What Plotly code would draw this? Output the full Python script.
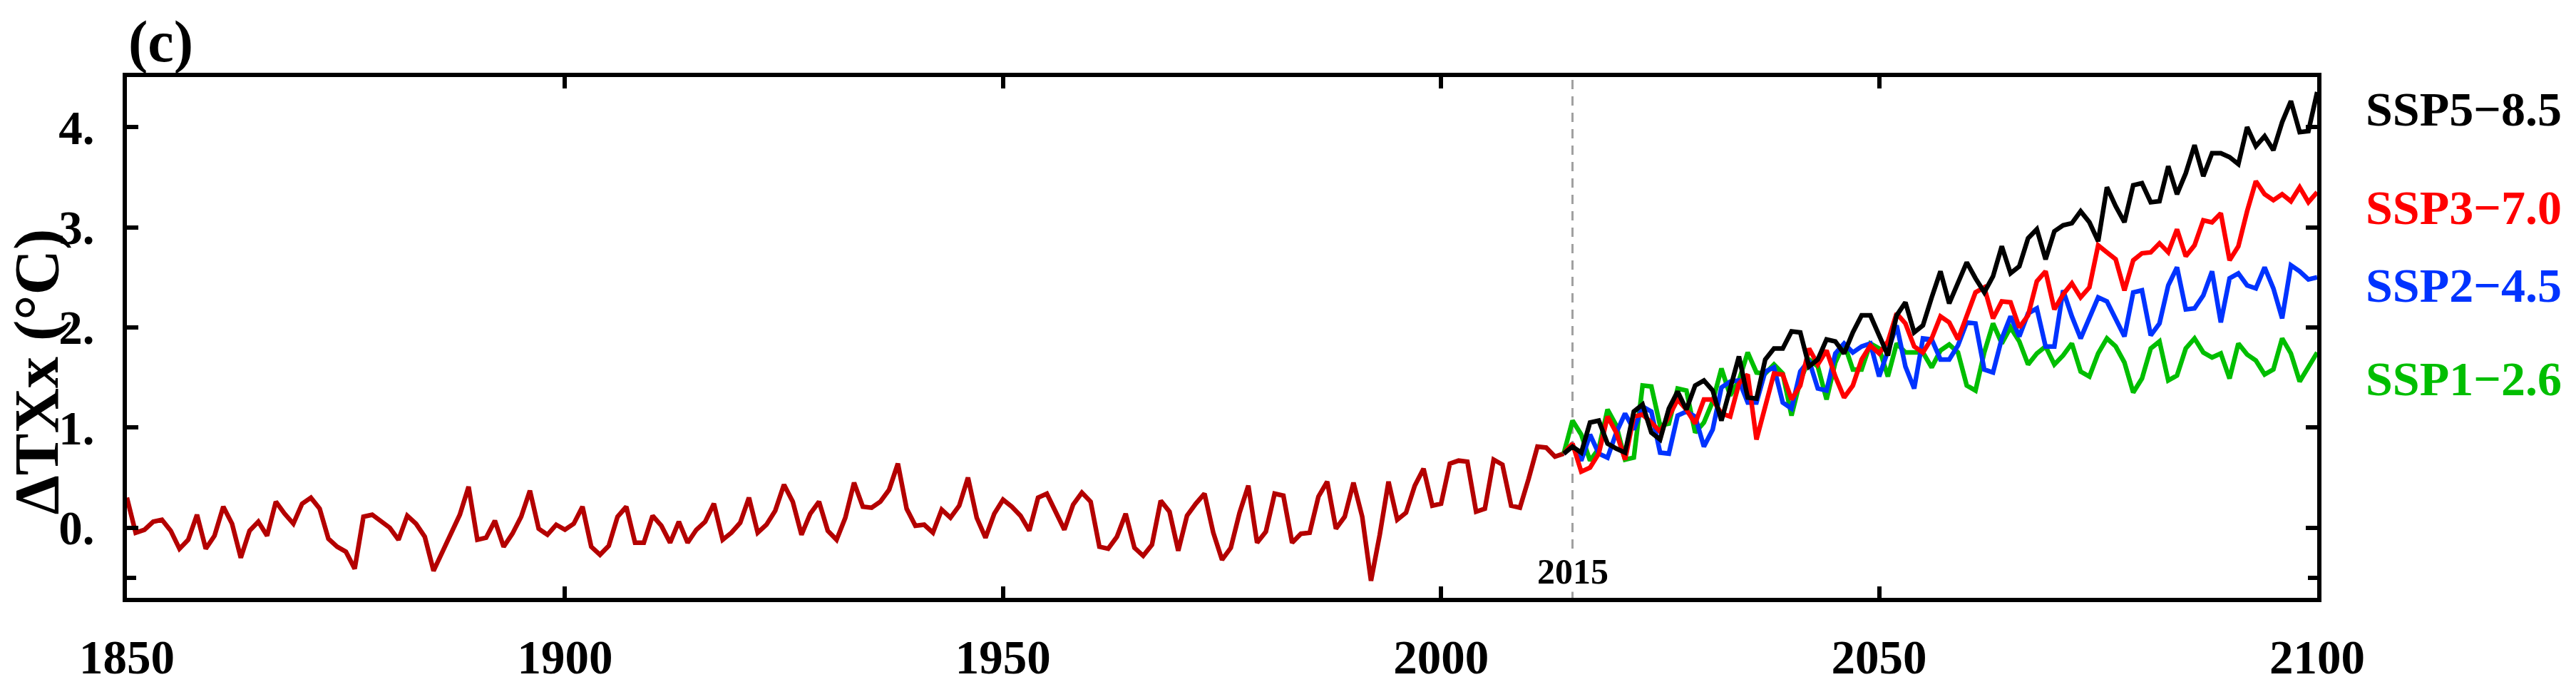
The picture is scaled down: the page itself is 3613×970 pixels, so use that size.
import plotly.graph_objects as go

# ---------------- data ----------------
hist_years = list(range(1850, 2015))
hist_vals = [
    0.30, -0.05, -0.02, 0.06, 0.08, -0.03, -0.21, -0.12, 0.13, -0.21,
    -0.08, 0.21, 0.04, -0.30, -0.03, 0.06, -0.08, 0.26, 0.14, 0.04,
    0.24, 0.30, 0.19, -0.11, -0.19, -0.24, -0.41, 0.11, 0.13, 0.06,
    0.00, -0.12, 0.12, 0.04, -0.09, -0.43, -0.25, -0.05, 0.13, 0.41,
    -0.12, -0.10, 0.07, -0.19, -0.06, 0.11, 0.37, -0.01, -0.07, 0.03,
    -0.02, 0.04, 0.21, -0.19, -0.27, -0.18, 0.11, 0.21, -0.15, -0.15,
    0.12, 0.02, -0.15, 0.06, -0.15, -0.02, 0.06, 0.24, -0.12, -0.05,
    0.05, 0.30, -0.05, 0.03, 0.17, 0.43, 0.26, -0.07, 0.14, 0.26,
    -0.03, -0.12, 0.10, 0.45, 0.21, 0.20, 0.26, 0.38, 0.64, 0.19,
    0.02, 0.03, -0.05, 0.18, 0.10, 0.22, 0.50, 0.10, -0.10, 0.14,
    0.28, 0.21, 0.12, -0.03, 0.30, 0.34, 0.15, -0.02, 0.23, 0.35,
    0.26, -0.19, -0.21, -0.09, 0.14, -0.20, -0.28, -0.17, 0.27, 0.16,
    -0.23, 0.12, 0.24, 0.34, -0.05, -0.32, -0.20, 0.15, 0.42, -0.15,
    -0.04, 0.34, 0.32, -0.15, -0.06, -0.05, 0.31, 0.46, -0.01, 0.11,
    0.45, 0.11, -0.53, -0.07, 0.46, 0.08, 0.15, 0.42, 0.59, 0.22,
    0.24, 0.64, 0.67, 0.66, 0.16, 0.19, 0.68, 0.63, 0.22, 0.20,
    0.49, 0.81, 0.80, 0.71, 0.74,
]

proj_years = list(range(2014, 2101))
ssp585 = [
    0.74, 0.81, 0.75, 1.05, 1.07, 0.84, 0.79, 0.75, 1.16, 1.23,
    0.95, 0.88, 1.19, 1.36, 1.18, 1.42, 1.47, 1.37, 1.07, 1.40,
    1.71, 1.30, 1.29, 1.68, 1.79, 1.79, 1.96, 1.95, 1.61, 1.68,
    1.88, 1.86, 1.74, 1.95, 2.12, 2.12, 1.93, 1.72, 2.12, 2.25,
    1.95, 2.02, 2.30, 2.56, 2.24, 2.46, 2.65, 2.49, 2.35, 2.51,
    2.81, 2.54, 2.61, 2.89, 2.98, 2.68, 2.96, 3.02, 3.04, 3.16,
    3.05, 2.86, 3.40, 3.21, 3.05, 3.42, 3.44, 3.25, 3.26, 3.61,
    3.33, 3.54, 3.82, 3.51, 3.74, 3.74, 3.70, 3.63, 4.00, 3.81,
    3.91, 3.77, 4.05, 4.26, 3.95, 3.96, 4.35,
]
ssp370 = [
    0.74, 0.84, 0.56, 0.60, 0.74, 1.11, 0.95, 0.68, 1.11, 1.13,
    1.05, 0.96, 1.11, 1.28, 1.18, 1.04, 1.28, 1.28, 1.14, 1.11,
    1.44, 1.53, 0.88, 1.23, 1.54, 1.53, 1.28, 1.42, 1.79, 1.63,
    1.77, 1.51, 1.30, 1.42, 1.68, 1.82, 1.74, 1.86, 2.14, 2.04,
    1.81, 1.75, 1.89, 2.11, 2.05, 1.88, 2.11, 2.35, 2.40, 2.09,
    2.26, 2.25, 2.00, 2.12, 2.46, 2.56, 2.18, 2.33, 2.44, 2.30,
    2.40, 2.82, 2.75, 2.68, 2.37, 2.67, 2.74, 2.75, 2.84, 2.75,
    2.98, 2.71, 2.82, 3.07, 3.05, 3.14, 2.67, 2.81, 3.16, 3.46,
    3.33, 3.27, 3.33, 3.26, 3.40, 3.25, 3.35,
]
ssp245 = [
    0.74, 0.82, 0.67, 0.93, 0.74, 0.70, 0.95, 1.14, 0.98, 1.21,
    1.16, 0.75, 0.74, 1.12, 1.16, 1.11, 0.81, 0.98, 1.40, 1.46,
    1.47, 1.25, 1.25, 1.56, 1.60, 1.25, 1.19, 1.56, 1.67, 1.39,
    1.37, 1.74, 1.84, 1.75, 1.81, 1.84, 1.51, 1.75, 2.02, 1.61,
    1.39, 1.89, 1.88, 1.68, 1.68, 1.82, 2.05, 2.04, 1.58, 1.55,
    1.89, 2.11, 1.91, 2.14, 2.19, 1.81, 1.81, 2.37, 2.11, 1.89,
    2.11, 2.30, 2.26, 2.09, 1.91, 2.35, 2.37, 1.92, 2.04, 2.42,
    2.60, 2.18, 2.19, 2.32, 2.56, 2.05, 2.49, 2.54, 2.42, 2.39,
    2.60, 2.39, 2.09, 2.62, 2.56, 2.48, 2.50,
]
ssp126 = [
    0.74, 1.07, 0.93, 0.67, 0.79, 1.18, 1.02, 0.68, 0.70, 1.42,
    1.41, 1.02, 1.04, 1.39, 1.37, 0.95, 1.05, 1.26, 1.59, 1.32,
    1.47, 1.75, 1.55, 1.54, 1.63, 1.54, 1.12, 1.47, 1.68, 1.61,
    1.28, 1.65, 1.84, 1.58, 1.58, 1.84, 1.79, 1.51, 1.84, 1.75,
    1.75, 1.75, 1.60, 1.77, 1.83, 1.75, 1.42, 1.37, 1.75, 2.04,
    1.84, 2.00, 1.86, 1.63, 1.74, 1.81, 1.63, 1.72, 1.84, 1.56,
    1.51, 1.74, 1.89, 1.81, 1.65, 1.35, 1.49, 1.79, 1.86, 1.47,
    1.52, 1.79, 1.89, 1.75, 1.70, 1.74, 1.49, 1.84, 1.73, 1.67,
    1.53, 1.58, 1.89, 1.74, 1.46, 1.60, 1.75,
]

scenario_names = ["SSP1\u22122.6", "SSP2\u22124.5", "SSP3\u22127.0", "SSP5\u22128.5"]
scenario_values = [ssp126, ssp245, ssp370, ssp585]
scenario_colors = ["#00BE00", "#0033FF", "#FF0000", "#000000"]
hist_color = "#B40000"

x_tickvals = [1850, 1900, 1950, 2000, 2050, 2100]
y_tickvals = [0, 1, 2, 3, 4]
y_ticktext = ["0.", "1.", "2.", "3.", "4."]
split_year = 2015

# ---------------- figure ----------------
FONT = "Liberation Serif, Times New Roman, serif"
W, H = 3613, 970
ML, MR, MT, MB = 178, 363, 108, 94
PW, PH = W - ML - MR, H - MT - MB


def px_to_paper_x(px):
    return (px - ML) / PW


def px_to_paper_y(py):
    return (H - MB - py) / PH


fig = go.Figure()
fig.add_trace(go.Scatter(x=hist_years, y=hist_vals, mode="lines",
                         line=dict(color=hist_color, width=6.5),
                         showlegend=False))
for name, vals, col in zip(scenario_names, scenario_values, scenario_colors):
    fig.add_trace(go.Scatter(x=proj_years, y=vals, mode="lines", name=name,
                             line=dict(color=col, width=6.5), showlegend=False))

fig.add_shape(type="line", xref="x", yref="paper", x0=split_year, x1=split_year,
              y0=0, y1=1, line=dict(color="#A0A0A0", width=3, dash="13px,10px"),
              layer="below")

axis_common = dict(showline=True, linewidth=6, linecolor="black", mirror="ticks",
                   ticks="inside", ticklen=16, tickwidth=6, tickcolor="black",
                   showgrid=False, zeroline=False,
                   tickfont=dict(family=FONT, size=67, color="black", weight="bold"))

fig.update_xaxes(range=[1850, 2100], tickmode="array", tickvals=x_tickvals,
                 ticktext=[str(v) for v in x_tickvals], ticklabelstandoff=20,
                 **axis_common)
fig.update_yaxes(range=[-0.7, 4.5], tickmode="array", tickvals=y_tickvals,
                 ticktext=y_ticktext, ticklabelstandoff=26,
                 minor=dict(tickmode="array", tickvals=[-0.5], ticks="inside",
                            ticklen=13, tickwidth=6, tickcolor="black"),
                 **axis_common)

annotations = [
    dict(text="\u0394TXx (\u00b0C)", x=px_to_paper_x(51), y=px_to_paper_y(543),
         xref="paper", yref="paper", textangle=-90, showarrow=False,
         xanchor="center", yanchor="middle",
         font=dict(family=FONT, size=88, color="black", weight="bold")),
    dict(text="(c)", x=px_to_paper_x(178), y=px_to_paper_y(56),
         xref="paper", yref="paper", showarrow=False,
         xanchor="left", yanchor="middle",
         font=dict(family=FONT, size=82, color="black", weight="bold")),
    dict(text=str(split_year), x=split_year, y=px_to_paper_y(837),
         xref="x", yref="paper", showarrow=False, bgcolor="white",
         xanchor="center", yanchor="middle", borderpad=0,
         font=dict(family=FONT, size=50, color="black", weight="bold")),
]
label_py = {"SSP5\u22128.5": 155, "SSP3\u22127.0": 300, "SSP2\u22124.5": 415, "SSP1\u22122.6": 553}
for name, col in zip(scenario_names, scenario_colors):
    annotations.append(dict(text=name, x=px_to_paper_x(3316), y=px_to_paper_y(label_py[name]),
                            xref="paper", yref="paper", showarrow=False,
                            xanchor="left", yanchor="middle",
                            font=dict(family=FONT, size=68, color=col, weight="bold")))

fig.update_layout(width=W, height=H, margin=dict(l=ML, r=MR, t=MT, b=MB, pad=0),
                  paper_bgcolor="white", plot_bgcolor="white",
                  annotations=annotations, showlegend=False)

fig.write_html("out.html", config={"displayModeBar": False},
               post_script="document.body.style.margin='0';document.body.style.overflow='hidden';")
